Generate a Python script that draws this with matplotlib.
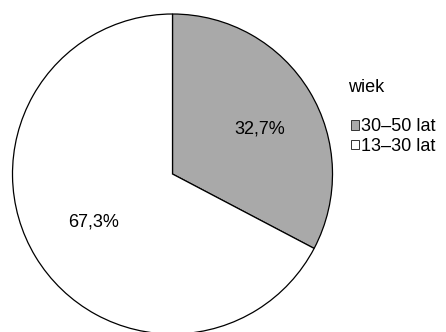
import matplotlib.pyplot as plt

plt.rcParams['font.family'] = ['Liberation Sans', 'DejaVu Sans']

# dane
grupy = ['30–50 lat', '13–30 lat']
udzialy = [32.7, 67.3]
kolory = ['#a9a9a9', '#ffffff']

fig = plt.figure(figsize=(4.46, 3.32), dpi=100)
# kolo lekko uciete na dole jak w oryginale
ax = fig.add_axes([12.5/446, -2/332, 320/446, 320/332])

wedges, teksty, procenty = ax.pie(
    udzialy, colors=kolory, startangle=90, counterclock=False,
    autopct=lambda p: ('%.1f%%' % p).replace('.', ','), pctdistance=0.58,
    wedgeprops=dict(edgecolor='black', linewidth=0.9),
    textprops=dict(fontsize=13))
# pierwsza etykieta troche dalej od srodka
x, y = procenty[0].get_position()
procenty[0].set_position((x + 0.05, y - 0.02))
ax.set_xlim(-1, 1)
ax.set_ylim(-1, 1)
ax.set_aspect('equal')

# tytul legendy
fig.text(348/446, 1 - 88/332, 'wiek', fontsize=13, ha='left', va='center')

leg = fig.legend(wedges, grupy, loc='center left',
                 bbox_to_anchor=(351/446, 1 - 136.5/332), frameon=False,
                 fontsize=13, handlelength=0.44, handleheight=0.44,
                 handletextpad=0.12, labelspacing=0.15, borderpad=0,
                 borderaxespad=0)
for h in leg.legend_handles:
    h.set_linewidth(0.7)
    h.set_edgecolor('#333333')

fig.savefig('out.png', dpi=100)
